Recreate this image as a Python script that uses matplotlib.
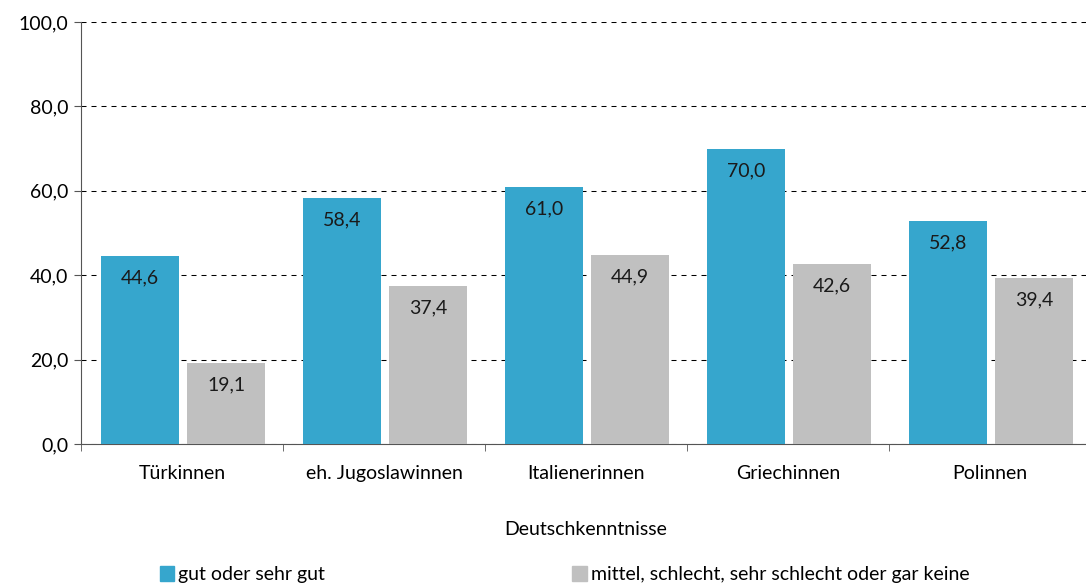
import matplotlib
matplotlib.use('Agg')
import matplotlib.pyplot as plt
import numpy as np

plt.rcParams['font.family'] = ['Lato', 'DejaVu Sans']
plt.rcParams['font.size'] = 14

categories = ["Türkinnen", "eh. Jugoslawinnen", "Italienerinnen", "Griechinnen", "Polinnen"]
gut = [44.6, 58.4, 61.0, 70.0, 52.8]
schlecht = [19.1, 37.4, 44.9, 42.6, 39.4]
series_labels = ["gut oder sehr gut", "mittel, schlecht, sehr schlecht oder gar keine"]

blue = '#36A6CD'
grey = '#C0C0C0'

fig = plt.figure(figsize=(10.86, 5.86), dpi=100)
# plot area runs a little past the right edge, like the original
ax = fig.add_axes([0.0746, 0.2423, 0.930, 0.7202])

ind = np.arange(len(categories))
width = 0.385

b1 = ax.bar(ind - 0.207, gut, width, color=blue, zorder=3)
b2 = ax.bar(ind + 0.218, schlecht, width, color=grey, zorder=3)

def fmt(v):
    return ('%.1f' % v).replace('.', ',')

for bars, vals in ((b1, gut), (b2, schlecht)):
    for r, v in zip(bars, vals):
        ax.text(r.get_x() + r.get_width() / 2, v - 5.2, fmt(v), ha='center', va='center',
                fontsize=14, color='#1a1a1a', zorder=4)

ax.set_xlim(-0.5, len(categories) - 0.5)
ax.set_ylim(0, 100)
ax.set_yticks(np.arange(0, 101, 20))
ax.set_yticklabels([fmt(v) for v in np.arange(0, 101, 20)])
ax.set_xticks(ind)
ax.set_xticklabels(categories)
ax.set_xticks(np.arange(-0.5, len(categories)), minor=True)
ax.tick_params(axis='x', which='major', length=0, pad=15)
ax.tick_params(axis='x', which='minor', length=5, color='#555555')
ax.tick_params(axis='y', length=5, color='#555555', pad=4)

ax.grid(axis='y', linestyle=(0, (4.8, 4.8)), color='black', linewidth=0.75, zorder=0)
for s in ('top', 'right'):
    ax.spines[s].set_visible(False)
for s in ('left', 'bottom'):
    ax.spines[s].set_color('#555555')

ax.set_xlabel("Deutschkenntnisse", labelpad=28)

h1 = plt.Rectangle((0, 0), 1, 1, color=blue)
h2 = plt.Rectangle((0, 0), 1, 1, color=grey)
fig.legend([h1], [series_labels[0]], loc='lower left', bbox_to_anchor=(0.138, -0.012),
           frameon=False, borderpad=0, handlelength=0.75, handleheight=0.75, handletextpad=0.2)
fig.legend([h2], [series_labels[1]], loc='lower left', bbox_to_anchor=(0.518, -0.012),
           frameon=False, borderpad=0, handlelength=0.75, handleheight=0.75, handletextpad=0.2)

fig.savefig('out.png', dpi=100)
